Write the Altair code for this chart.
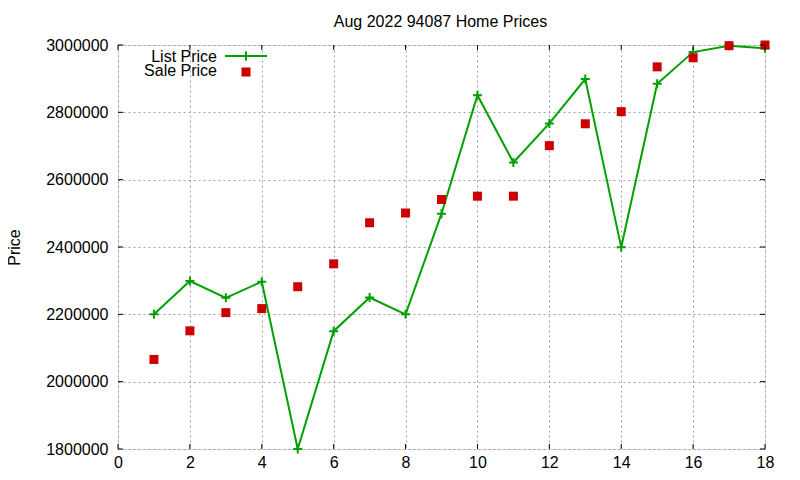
import altair as alt
import pandas as pd

# ---- data ----
idx = list(range(1, 19))
list_price = [2200000, 2299000, 2249000, 2297000, 1800000, 2150000, 2250000, 2200000, 2499000,
              2851000, 2651000, 2767000, 2899000, 2399000, 2885000, 2979000, 2998000, 2990000]
sale_price = [2066000, 2151000, 2205000, 2217000, 2282000, 2350000, 2472000, 2501000, 2541000,
              2551000, 2551000, 2701000, 2766000, 2802000, 2935000, 2962000, 2998000, 3000000]
x_ticks = [0, 2, 4, 6, 8, 10, 12, 14, 16, 18]
y_ticks = [1800000, 2000000, 2200000, 2400000, 2600000, 2800000, 3000000]
title_text = "Aug 2022 94087 Home Prices"
legend_labels = ["List Price", "Sale Price"]

W, H = 647, 404
FONT = "Liberation Sans"
GREEN = "#00a000"
RED = "#cc0000"
PLUS = "M-1,0L1,0M0,-1L0,1"

df = pd.DataFrame({"x": idx, "list": list_price, "sale": sale_price})
xt = pd.DataFrame({"x": x_ticks})
yt = pd.DataFrame({"y": y_ticks})

xscale = alt.Scale(domain=[0, 18], nice=False, zero=False)
yscale = alt.Scale(domain=[1800000, 3000000], nice=False, zero=False)

xaxis = alt.Axis(values=x_ticks, title=None, grid=True, gridColor="#a0a0a0", gridDash=[2, 3],
                 gridWidth=1, ticks=False, tickSize=0, domain=False, labelFont=FONT,
                 labelFontSize=16, labelColor="black", labelPadding=5, labelFlush=False)
yaxis = alt.Axis(values=y_ticks, format="d", title="Price", grid=True, gridColor="#a0a0a0",
                 gridDash=[2, 3], gridWidth=1, ticks=False, tickSize=0, domain=False,
                 labelFont=FONT, labelFontSize=16, labelColor="black", labelPadding=10,
                 labelFlush=False, titleFont=FONT, titleFontSize=16, titleFontWeight="normal",
                 titleColor="black", titleAngle=270, titleBaseline="middle",
                 titleX=-104, titleY=H / 2, titleAlign="center")


def X(field="x"):
    return alt.X(f"{field}:Q", scale=xscale, axis=xaxis)


def Y(field):
    return alt.Y(f"{field}:Q", scale=yscale, axis=yaxis)


line = alt.Chart(df).mark_line(color=GREEN, strokeWidth=2).encode(x=X(), y=Y("list"))
plus = alt.Chart(df).mark_point(shape=PLUS, size=81, filled=False, stroke=GREEN,
                                strokeWidth=2, opacity=1).encode(x=X(), y=Y("list"))
sale = alt.Chart(df).mark_square(size=81, color=RED, opacity=1).encode(x=X(), y=Y("sale"))

# inward ticks on all four sides (gnuplot style)
tick_left = alt.Chart(yt).mark_rule(color="black", strokeWidth=1).encode(
    y=Y("y"), x=alt.value(0), x2=alt.value(5))
tick_right = alt.Chart(yt).mark_rule(color="black", strokeWidth=1).encode(
    y=Y("y"), x=alt.value(W - 5), x2=alt.value(W))
tick_bot = alt.Chart(xt).mark_rule(color="black", strokeWidth=1).encode(
    x=X(), y=alt.value(H - 5), y2=alt.value(H))
tick_top = alt.Chart(xt).mark_rule(color="black", strokeWidth=1).encode(
    x=X(), y=alt.value(0), y2=alt.value(5))

# title and manual gnuplot-style legend (label left of sample)
one = pd.DataFrame({"a": [0]})
title = alt.Chart(one).mark_text(align="center", baseline="alphabetic", font=FONT,
                                 fontSize=16, color="black").encode(
    x=alt.value(W / 2 - 1), y=alt.value(-18), text=alt.value(title_text))
leg_t1 = alt.Chart(one).mark_text(align="right", baseline="alphabetic", font=FONT,
                                  fontSize=16, color="black").encode(
    x=alt.value(99), y=alt.value(16.5), text=alt.value(legend_labels[0]))
leg_t2 = alt.Chart(one).mark_text(align="right", baseline="alphabetic", font=FONT,
                                  fontSize=16, color="black").encode(
    x=alt.value(99), y=alt.value(30.5), text=alt.value(legend_labels[1]))
leg_line = alt.Chart(one).mark_rule(color=GREEN, strokeWidth=2).encode(
    x=alt.value(107), x2=alt.value(149), y=alt.value(11))
leg_plus = alt.Chart(one).mark_point(shape=PLUS, size=81, filled=False, stroke=GREEN,
                                     strokeWidth=2, opacity=1).encode(
    x=alt.value(128), y=alt.value(11))
leg_sq = alt.Chart(one).mark_square(size=81, color=RED, opacity=1).encode(
    x=alt.value(128), y=alt.value(27))

chart = alt.layer(
    line, plus, sale, tick_left, tick_right, tick_bot, tick_top,
    title, leg_t1, leg_t2, leg_line, leg_plus, leg_sq,
).properties(
    width=W, height=H,
    autosize=alt.AutoSizeParams(type="none"),
    padding={"left": 110, "top": 37, "right": 27, "bottom": 23},
).configure_view(
    stroke="black", strokeWidth=1
).configure(background="white")

chart.save("out.html", embed_options={"renderer": "svg", "actions": False})
